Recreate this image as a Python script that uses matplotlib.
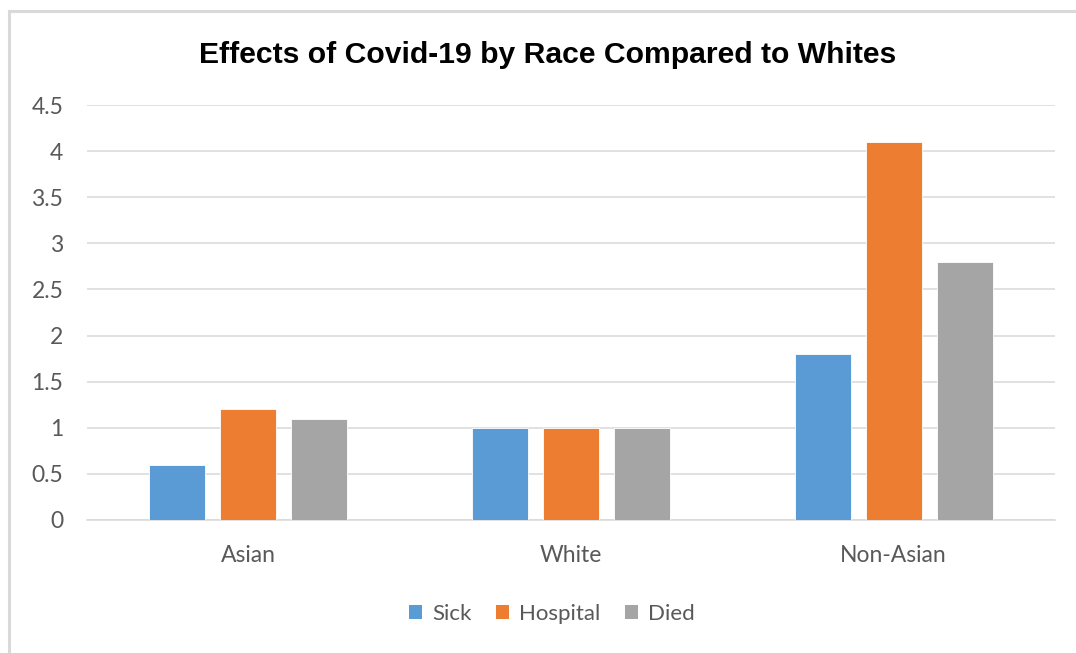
import matplotlib
matplotlib.use("Agg")
import matplotlib.pyplot as plt
from matplotlib.patches import Rectangle, Patch
import numpy as np

categories = ["Asian", "White", "Non-Asian"]
sick = [0.6, 1.0, 1.8]
hospital = [1.2, 1.0, 4.1]
died = [1.1, 1.0, 2.8]
series_names = ["Sick", "Hospital", "Died"]
series_colors = ["#5B9BD5", "#ED7D31", "#A5A5A5"]
y_ticks = [0, 0.5, 1, 1.5, 2, 2.5, 3, 3.5, 4, 4.5]
y_tick_labels = ["0", "0.5", "1", "1.5", "2", "2.5", "3", "3.5", "4", "4.5"]
title = "Effects of Covid-19 by Race Compared to Whites"

W, H = 1076, 653
fig = plt.figure(figsize=(W / 100, H / 100), dpi=100)
fig.patch.set_facecolor("white")

# chart frame
fig.patches.append(Rectangle((9 / W, -0.1), 1.2, 1 - 11 / H + 0.1,
                             transform=fig.transFigure, fill=False,
                             edgecolor="#D9D9D9", linewidth=2.2, zorder=0))

ax = fig.add_axes([87 / W, 1 - 520 / H, (1055 - 87) / W, (520 - 105) / H])
x = np.arange(len(categories))
width = 0.1735
offset = 0.22
for i, (vals, color) in enumerate(zip([sick, hospital, died], series_colors)):
    ax.bar(x + (i - 1) * offset, vals, width, color=color,
           edgecolor="white", linewidth=0.6, zorder=3)

ax.set_xlim(-0.5, len(categories) - 0.5)
ax.set_ylim(0, 4.5)
ax.set_yticks(y_ticks)
ax.set_yticklabels(y_tick_labels)
ax.set_xticks(x)
ax.set_xticklabels(categories)
ax.grid(axis="y", color="#D9D9D9", linewidth=1.1, zorder=0)
ax.set_axisbelow(True)
for s in ["top", "right", "left"]:
    ax.spines[s].set_visible(False)
ax.spines["bottom"].set_color("#D9D9D9")
ax.spines["bottom"].set_linewidth(1.1)
ax.tick_params(axis="both", length=0, labelcolor="#595959", labelsize=16.5)
ax.tick_params(axis="y", pad=17)
ax.tick_params(axis="x", pad=18)
for lbl in ax.get_xticklabels() + ax.get_yticklabels():
    lbl.set_family("Lato")

fig.text(548 / W, 1 - 63 / H, title, ha="center", va="baseline",
         fontsize=21.7, fontweight="bold", family="Liberation Sans",
         color="black")

handles = [Patch(facecolor=c, edgecolor="none") for c in series_colors]
leg = fig.legend(handles, series_names, loc="center",
                 bbox_to_anchor=(552 / W, 1 - 614 / H), ncol=3, frameon=False,
                 prop={"family": "Lato", "size": 16},
                 handlelength=0.6, handleheight=0.6, handletextpad=0.45,
                 columnspacing=1.1)
for t in leg.get_texts():
    t.set_color("#595959")

fig.savefig("out.png", dpi=100)
